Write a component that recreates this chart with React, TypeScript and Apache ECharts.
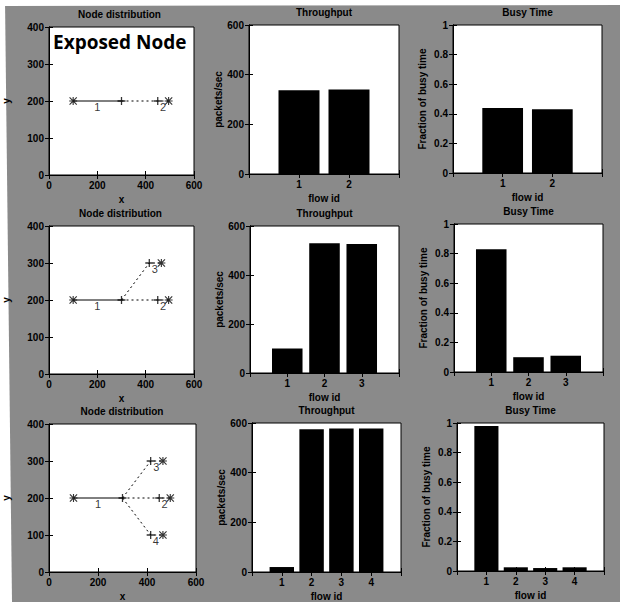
import { useEffect, useRef } from 'react';
import * as echarts from 'echarts';

// ---------------- data ----------------
const panelTitles = ['Node distribution', 'Throughput', 'Busy Time'];
const xAxisNames = ['x', 'flow id', 'flow id'];
const yAxisNames = ['y', 'packets/sec', 'Fraction of busy time'];

const throughputRow1 = [337, 340];
const throughputRow2 = [100, 530, 527];
const throughputRow3 = [20, 575, 578, 578];
const busyRow1 = [0.44, 0.43];
const busyRow2 = [0.83, 0.1, 0.11];
const busyRow3 = [0.98, 0.025, 0.02, 0.025];

const flow1Path = [[100, 200], [300, 200]];
const flow2Path = [[300, 200], [450, 200], [495, 200]];
const flow3Path = [[300, 200], [415, 300], [465, 300]];
const flow4Path = [[300, 200], [415, 100], [465, 100]];
const starNodes = [[100, 200], [495, 200], [465, 300], [465, 100]];
const plusNodes = [[300, 200], [450, 200], [415, 300], [415, 100]];
const flowLabels = [
  { name: '1', value: [200, 200] },
  { name: '2', value: [472, 200] },
  { name: '3', value: [438, 300] },
  { name: '4', value: [436, 100] },
];

const nodeXRange = [0, 600, 200];
const nodeYRange = [0, 400, 100];
const throughputRange = [0, 600, 200];
const busyRange = [0, 1, 0.2];

const exposedNodeText = 'Exposed Node';

// ---------------- layout / style ----------------
const gridRects = [
  [45, 27, 149, 148], [249, 25, 150, 149], [453, 25, 149, 148],
  [47, 226, 147, 148], [250, 226, 149, 147], [454, 224, 149, 148],
  [48, 424, 148, 148], [252, 423, 149, 149], [457, 423, 147, 148],
];
const FONT = '"Liberation Sans", Arial, sans-serif';
const BG = '#8a8a8a';

const plusPath = 'path://M4.2,0H5.8V10H4.2Z M0,4.2H10V5.8H0Z';
const starPath =
  'path://M4.3,0H5.7V10H4.3Z M0,4.3H10V5.7H0Z M0,1L1,0L10,9L9,10Z M9,0L10,1L1,10L0,9Z';

function buildOption() {
  const throughputRows = [throughputRow1, throughputRow2, throughputRow3];
  const busyRows = [busyRow1, busyRow2, busyRow3];
  const flowPaths = [flow1Path, flow2Path, flow3Path, flow4Path];

  const grids: any[] = [];
  const xAxes: any[] = [];
  const yAxes: any[] = [];
  const mirrorX: any[] = [];
  const mirrorY: any[] = [];
  const series: any[] = [];
  const graphics: any[] = [];

  const labelStyle = {
    color: '#000', fontSize: 10, fontWeight: 'bold', fontFamily: FONT, margin: 5,
  };
  const lineStyle = { lineStyle: { color: '#000', width: 1 } };
  const tick = { inside: true, length: 4, lineStyle: { color: '#000', width: 1 } };
  const nameStyle = { color: '#000', fontSize: 10, fontWeight: 'bold', fontFamily: FONT };

  gridRects.forEach(([l, t, w, h], i) => {
    const row = Math.floor(i / 3);
    const col = i % 3;
    const nFlows = row + 2;
    grids.push({
      left: l, top: t, width: w, height: h, show: true,
      backgroundColor: '#fff', borderColor: '#000', borderWidth: 1,
    });

    let xr: number[];
    let yr: number[];
    let xFormatter: any = undefined;
    if (col === 0) {
      xr = nodeXRange;
      yr = nodeYRange;
    } else {
      xr = [0, nFlows + 1, 1];
      yr = col === 1 ? throughputRange : busyRange;
      xFormatter = (v: number) => (v >= 1 && v <= nFlows ? String(v) : '');
    }

    xAxes.push({
      type: 'value', gridIndex: i, position: 'bottom',
      min: xr[0], max: xr[1], interval: xr[2],
      axisLine: lineStyle, axisTick: tick, splitLine: { show: false },
      axisLabel: { ...labelStyle, formatter: xFormatter },
      name: xAxisNames[col], nameLocation: 'middle', nameGap: 19, nameTextStyle: nameStyle,
    });
    yAxes.push({
      type: 'value', gridIndex: i, position: 'left',
      min: yr[0], max: yr[1], interval: yr[2],
      axisLine: lineStyle, axisTick: tick, splitLine: { show: false },
      axisLabel: labelStyle,
      name: yAxisNames[col], nameLocation: 'middle',
      nameGap: col === 0 ? 38 : 26, nameTextStyle: nameStyle,
    });
    mirrorX.push({
      type: 'value', gridIndex: i, position: 'top',
      min: xr[0], max: xr[1], interval: xr[2],
      axisLine: lineStyle, axisTick: tick, splitLine: { show: false },
      axisLabel: { show: false },
    });
    mirrorY.push({
      type: 'value', gridIndex: i, position: 'right',
      min: yr[0], max: yr[1], interval: yr[2],
      axisLine: lineStyle, axisTick: tick, splitLine: { show: false },
      axisLabel: { show: false },
    });

    graphics.push({
      type: 'text', x: l + w / 2, y: t - 13, z: 10,
      style: {
        text: panelTitles[col], fill: '#000', font: `bold 10px ${FONT}`,
        align: 'center', verticalAlign: 'middle',
        textAlign: 'center', textVerticalAlign: 'middle',
      },
    });

    if (col === 0) {
      for (let f = 0; f < nFlows; f++) {
        series.push({
          type: 'line', xAxisIndex: i, yAxisIndex: i, data: flowPaths[f],
          symbol: 'none', silent: true, color: '#000',
          lineStyle: { color: '#000', width: 1, type: f === 0 ? 'solid' : [2, 3] },
        });
      }
      series.push({
        type: 'scatter', xAxisIndex: i, yAxisIndex: i, data: starNodes.slice(0, nFlows),
        symbol: starPath, symbolSize: 8, color: '#000', itemStyle: { color: '#000' },
      });
      series.push({
        type: 'scatter', xAxisIndex: i, yAxisIndex: i, data: plusNodes.slice(0, nFlows),
        symbol: plusPath, symbolSize: 8, color: '#000', itemStyle: { color: '#000' },
      });
      series.push({
        type: 'scatter', xAxisIndex: i, yAxisIndex: i, data: flowLabels.slice(0, nFlows),
        symbolSize: 0, color: '#000', itemStyle: { color: '#000' },
        label: {
          show: true, formatter: '{b}', position: 'bottom', distance: 0,
          color: '#000', fontSize: 11, fontFamily: FONT,
        },
      });
    } else {
      const values = col === 1 ? throughputRows[row] : busyRows[row];
      series.push({
        type: 'bar', xAxisIndex: i, yAxisIndex: i,
        data: values.map((v, k) => [k + 1, v]),
        barWidth: (w / (nFlows + 1)) * 0.82,
        color: '#000',
        itemStyle: { color: '#000' },
      });
    }
  });

  // "Exposed Node" annotation
  graphics.push({
    type: 'text', x: 53, y: 42, z: 10,
    style: {
      text: exposedNodeText, fill: '#000', font: 'bold 19px "Open Sans", sans-serif',
      align: 'left', verticalAlign: 'middle', textAlign: 'left', textVerticalAlign: 'middle',
    },
  });
  // white scan margins
  graphics.push({
    type: 'polygon', z: -1, silent: true,
    shape: { points: [[0, 0], [5, 0], [12, 602], [0, 602]] },
    style: { fill: '#fff' },
  });
  graphics.push({
    type: 'polygon', z: -1, silent: true,
    shape: { points: [[0, 0], [620, 0], [620, 5], [0, 6]] },
    style: { fill: '#fff' },
  });

  return {
    animation: false,
    backgroundColor: BG,
    color: ['#000'],
    grid: grids,
    xAxis: [...xAxes, ...mirrorX],
    yAxis: [...yAxes, ...mirrorY],
    series,
    graphic: graphics,
  };
}

export default function App() {
  const ref = useRef<HTMLDivElement>(null);
  useEffect(() => {
    if (!ref.current) return;
    const chart = echarts.init(ref.current, undefined, { renderer: 'svg' });
    chart.setOption(buildOption() as any);
    return () => chart.dispose();
  }, []);
  return (
    <div
      ref={ref}
      style={{ position: 'absolute', left: 0, top: 0, width: 620, height: 602 }}
    />
  );
}
